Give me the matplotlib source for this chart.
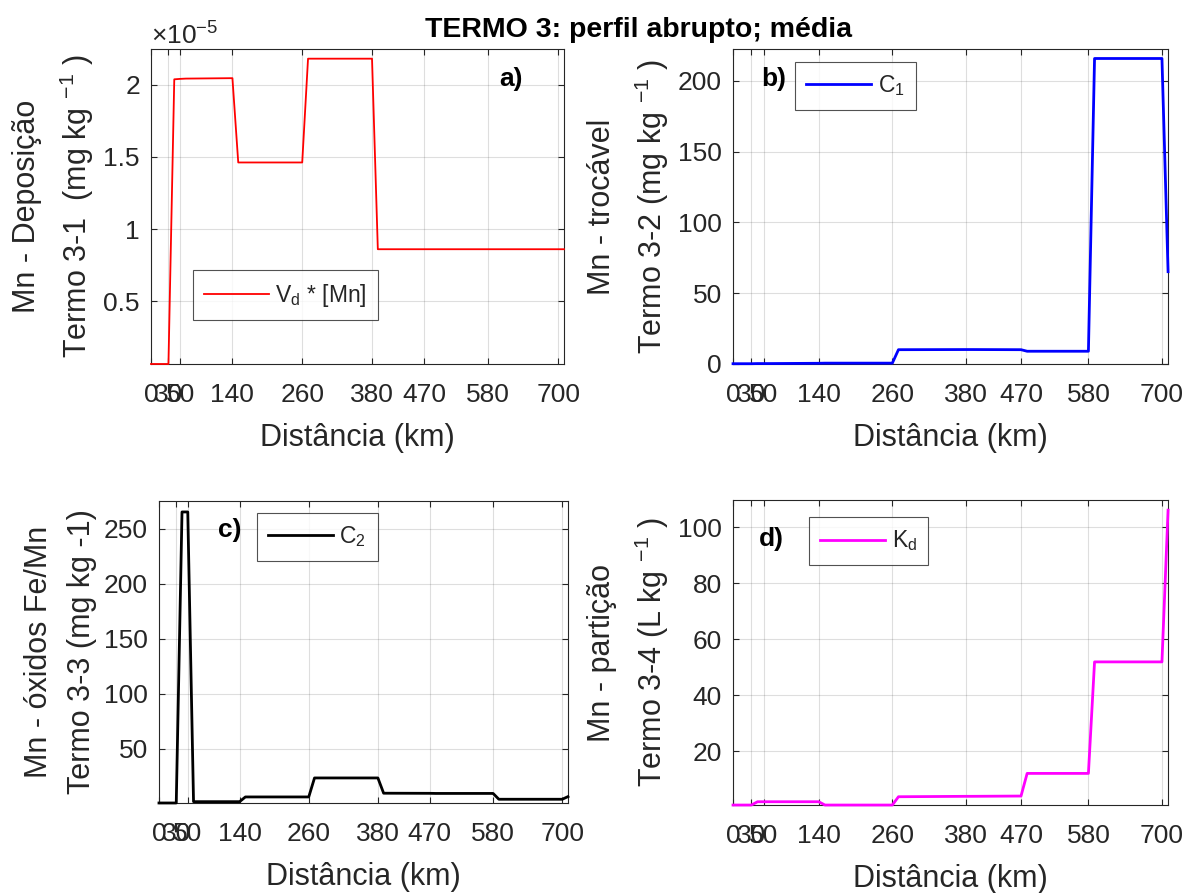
import matplotlib
matplotlib.use('Agg')
import matplotlib.pyplot as plt

# ── dados ─────────────────────────────────────────────────────────
dist_km = [0, 30, 40, 50, 60, 140, 150, 260, 270, 380, 390, 470, 480, 580, 590, 700, 710]

# a) V_d * [Mn]  (mg kg-1)
vd_mn = [0.065e-5, 0.065e-5, 2.037e-5, 2.040e-5, 2.042e-5, 2.045e-5, 1.461e-5, 1.461e-5,
         2.180e-5, 2.180e-5, 0.860e-5, 0.860e-5, 0.860e-5, 0.860e-5, 0.860e-5, 0.860e-5, 0.860e-5]
# b) C1
c1 = [0.2, 0.2, 0.3, 0.3, 0.3, 0.5, 0.6, 0.6, 10.1, 10.2, 10.2, 10.1, 9.0, 9.0, 215.8, 215.8, 65.2]
# c) C2
c2 = [0.5, 0.5, 265.5, 265.5, 1.7, 1.7, 6.0, 6.0, 23.3, 23.3, 9.4, 9.3, 9.2, 9.2, 3.9, 3.9, 6.3]
# d) Kd
kd = [0.68, 0.68, 1.86, 1.86, 1.86, 1.86, 0.68, 0.68, 3.65, 3.8, 3.8, 3.9, 12.0, 12.0, 51.9, 51.9, 106.2]

x_ticks = [0, 30, 50, 140, 260, 380, 470, 580, 700]

plt.rcParams['font.family'] = ['Liberation Sans', 'DejaVu Sans']
plt.rcParams['mathtext.fontset'] = 'custom'
plt.rcParams['mathtext.rm'] = 'Liberation Sans'
plt.rcParams['mathtext.it'] = 'Liberation Sans'
plt.rcParams['mathtext.bf'] = 'Liberation Sans:bold'

TXT = '#262626'
FS = 19      # ticks
FL = 22      # rótulos dos eixos

fig = plt.figure(figsize=(11.89, 8.93), dpi=100)

panels = [
    # (posição, y, cor, lw, ylim, yticks, ylabel, legenda, pos. legenda, letra, pos. letra)
    ([0.1270, 0.5924, 0.3473, 0.3524], [v / 1e-5 for v in vd_mn], '#ff0000', 1.3,
     (0.065, 2.245), [0.5, 1, 1.5, 2],
     'Mn - Deposição\nTermo 3-1  (mg kg $^{-1}$ )', 'V$_{d}$ * [Mn]',
     ('lower left', (0.1017, 0.1398)), 'a)', (0.873, 0.907)),
    ([0.6165, 0.5924, 0.3659, 0.3524], c1, '#0000ff', 2.0,
     (0, 222.3), [0, 50, 100, 150, 200],
     'Mn - trocável\nTermo 3-2 (mg kg $^{-1}$ )', 'C$_{1}$',
     ('upper left', (0.1425, 0.9597)), 'b)', (0.0936, 0.9056)),
    ([0.1337, 0.1008, 0.3440, 0.3382], c2, '#000000', 2.0,
     (0.5, 275.5), [50, 100, 150, 200, 250],
     'Mn - óxidos Fe/Mn\nTermo 3-3 (mg kg -1)', 'C$_{2}$',
     ('upper left', (0.2396, 0.9603)), 'c)', (0.1736, 0.904)),
    ([0.6165, 0.0985, 0.3659, 0.3415], kd, '#ff00ff', 2.0,
     (0.68, 109.8), [20, 40, 60, 80, 100],
     'Mn - partição\nTermo 3-4 (L kg $^{-1}$ )', 'K$_{d}$',
     ('upper left', (0.1747, 0.9443)), 'd)', (0.0885, 0.8738)),
]

for pos, y, color, lw, ylim, yticks, ylabel, leg, legpos, letter, letpos in panels:
    ax = fig.add_axes(pos)
    ax.plot(dist_km, y, color=color, linewidth=lw, label=leg, clip_on=False, zorder=3)
    ax.set_xlim(0, 710)
    ax.set_ylim(*ylim)
    ax.set_xticks(x_ticks)
    ax.set_xticklabels([str(t) for t in x_ticks])
    ax.set_yticks(yticks)
    ax.set_yticklabels([f'{t:g}' for t in yticks])
    ax.grid(True, color=TXT, alpha=0.15, linewidth=0.8)
    ax.tick_params(direction='in', length=4.5, width=0.8, colors=TXT,
                   labelsize=FS, top=True, right=True)
    ax.tick_params(axis='x', pad=14)
    ax.tick_params(axis='y', pad=8)
    for sp in ax.spines.values():
        sp.set_color(TXT)
        sp.set_linewidth(0.8)
    ax.set_xlabel('Distância (km)', fontsize=FL, color=TXT, labelpad=11)
    ax.set_ylabel(ylabel, fontsize=FL, color=TXT, linespacing=1.55, labelpad=5)
    ax.text(*letpos, letter, transform=ax.transAxes, fontsize=FS, fontweight='bold',
            ha='center', va='center', color='black')
    lg = ax.legend(loc=legpos[0], bbox_to_anchor=legpos[1], borderaxespad=0,
                   fontsize=16.5, handlelength=2.8, frameon=True, fancybox=False,
                   borderpad=0.5, handletextpad=0.3)
    lg.get_frame().set_edgecolor(TXT)
    lg.get_frame().set_linewidth(0.8)
    for t in lg.get_texts():
        t.set_color(TXT)

# multiplicador do eixo y do painel a)
fig.text(0.1270, 0.9440, r'$\times$10$^{-5}$', fontsize=19, color=TXT, ha='left', va='bottom')

fig.suptitle('TERMO 3: perfil abrupto; média', x=0.537, y=0.966, fontsize=20.5,
             fontweight='bold', va='center')

fig.savefig('out.png', dpi=100)
